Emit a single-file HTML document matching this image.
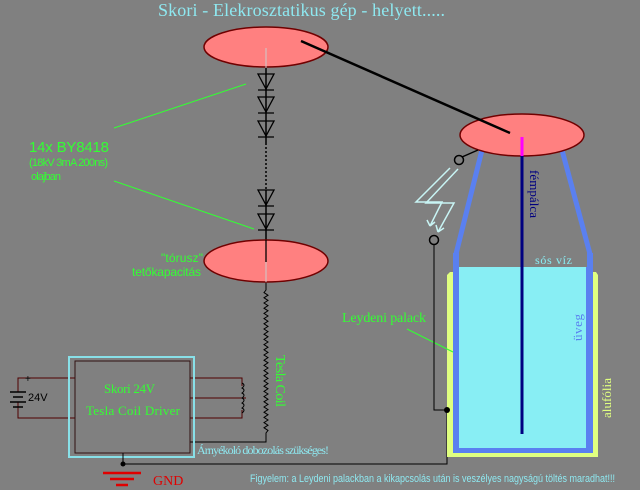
<!DOCTYPE html>
<html><head><meta charset="utf-8"><style>html,body{margin:0;padding:0;background:#808080;}svg{display:block}</style></head><body>
<svg width="640" height="490" xmlns="http://www.w3.org/2000/svg">
<rect width="640" height="490" fill="#808080"/>
<text x="158" y="16" font-family="Liberation Serif, serif" font-size="18" fill="#8ee8f0" textLength="287">Skori - Elekrosztatikus gép - helyett.....</text>
<!-- diode column -->
<line x1="266" y1="47" x2="266" y2="143" stroke="#000" stroke-width="1.5"/>
<line x1="266" y1="143" x2="266" y2="190" stroke="#000" stroke-width="1.5" stroke-dasharray="2,2"/>
<line x1="266" y1="190" x2="266" y2="261" stroke="#000" stroke-width="1.5"/>
<g fill="none" stroke="#000" stroke-width="1.3">
<path d="M258 74 L274 74 L266 89 Z M258 90 L274 90"/>
<path d="M258 97 L274 97 L266 112 Z M258 113 L274 113"/>
<path d="M258 121 L274 121 L266 136 Z M258 137 L274 137"/>
<path d="M258 190 L274 190 L266 205 Z M258 206 L274 206"/>
<path d="M258 214 L274 214 L266 229 Z M258 230 L274 230"/>
</g>
<ellipse cx="266" cy="47" rx="62" ry="20" fill="#ff8080" stroke="#700000" stroke-width="1.5"/>
<line x1="266" y1="48" x2="266" y2="68" stroke="#ccc" stroke-width="1"/>
<ellipse cx="266" cy="261" rx="62" ry="21" fill="#ff8080" stroke="#700000" stroke-width="1.5"/>
<line x1="266" y1="240" x2="266" y2="262" stroke="#000" stroke-width="1.3"/>
<line x1="266" y1="262" x2="266" y2="282" stroke="#ccc" stroke-width="1"/>
<!-- labels -->
<line x1="114" y1="128" x2="246" y2="84" stroke="#33ff33" stroke-width="1"/>
<line x1="114" y1="181" x2="254" y2="229" stroke="#33ff33" stroke-width="1"/>
<text x="29" y="152" font-family="Liberation Sans, sans-serif" font-size="15" fill="#33ff33" textLength="80">14x BY8418</text>
<text x="29" y="166" font-family="Liberation Sans, sans-serif" font-size="11" fill="#33ff33" textLength="79">(18kV 3mA 200ns)</text>
<text x="31" y="180" font-family="Liberation Sans, sans-serif" font-size="11" fill="#33ff33" textLength="30">olajban</text>
<text x="161" y="262" font-family="Liberation Sans, sans-serif" font-size="12" fill="#33ff33" textLength="42">"tórusz"</text>
<text x="132" y="276" font-family="Liberation Sans, sans-serif" font-size="12" fill="#33ff33" textLength="69">tetőkapacitás</text>
<!-- tesla coil -->
<path d="M266 283 L266 290 l-2 2.6 l4 2.6 l-4 2.6 l4 2.6 l-4 2.6 l4 2.6 l-4 2.6 l4 2.6 l-4 2.6 l4 2.6 l-4 2.6 l4 2.6 l-4 2.6 l4 2.6 l-4 2.6 l4 2.6 l-4 2.6 l4 2.6 l-4 2.6 l4 2.6 l-4 2.6 l4 2.6 l-4 2.6 l4 2.6 l-4 2.6 l4 2.6 l-4 2.6 l4 2.6 l-4 2.6 l4 2.6 l-4 2.6 l4 2.6 l-4 2.6 l4 2.6 l-4 2.6 l4 2.6 l-4 2.6 l4 2.6 l-4 2.6 l4 2.6 l-4 2.6 l4 2.6 l-4 2.6 l4 2.6 l-4 2.6 l4 2.6 l-4 2.6 l4 2.6 l-4 2.6 l4 2.6 l-4 2.6 l4 2.6 l-4 2.6 l4 2.6 l-2 2.6 L266 442 L190 442" fill="none" stroke="#000" stroke-width="1"/>
<text transform="translate(276,355) rotate(90)" font-family="Liberation Serif, serif" font-size="14" fill="#33ff33" textLength="52">Tesla Coil</text>
<!-- driver -->
<path d="M75 378 H18 V392 M18 402 V418 H75" fill="none" stroke="#500000" stroke-width="1"/>
<path d="M10 392 H26 M13 397 H23 M10 402 H26 M13 407 H23" stroke="#000" stroke-width="1.5"/>
<text x="25" y="382" font-family="Liberation Sans, sans-serif" font-size="10" fill="#000">+</text>
<text x="28" y="401" font-family="Liberation Sans, sans-serif" font-size="11" fill="#000">24V</text>
<path d="M190 378 H242 V386 M190 398 H246 M190 418 H242 V410" fill="none" stroke="#500000" stroke-width="1"/>
<path d="M242 383 q4 2 0 5 q4 2 0 5 q4 2 0 5 q4 2 0 5 q4 2 0 5 q4 2 0 5" fill="none" stroke="#000" stroke-width="1"/>
<rect x="69" y="357" width="125" height="100" fill="none" stroke="#88e0e8" stroke-width="2"/>
<rect x="75" y="361" width="115" height="92" fill="none" stroke="#301010" stroke-width="1"/>
<text x="104" y="393" font-family="Liberation Serif, serif" font-size="13" fill="#33ff33" textLength="51">Skori 24V</text>
<text x="86" y="415" font-family="Liberation Serif, serif" font-size="13" fill="#33ff33" textLength="94">Tesla Coil Driver</text>
<text x="197" y="454" font-family="Liberation Serif, serif" font-size="12" fill="#8ee8f0" textLength="132">Árnyékoló dobozolás szükséges!</text>
<!-- ground -->
<path d="M123 453 V464 H447 V410" fill="none" stroke="#000" stroke-width="1"/>
<circle cx="123" cy="464" r="2.5" fill="#000"/>
<path d="M103 473 H141 M110 479 H134 M116 485 H128" stroke="#e00000" stroke-width="2.5"/>
<text x="153" y="485" font-family="Liberation Serif, serif" font-size="14" fill="#e00000">GND</text>
<text x="250" y="482" font-family="Liberation Sans, sans-serif" font-size="11" fill="#8ee8f0" textLength="365" lengthAdjust="spacingAndGlyphs">Figyelem: a Leydeni palackban a kikapcsolás után is veszélyes nagyságú töltés maradhat!!!</text>
<!-- leyden jar -->
<path d="M447 275 L450 272 H596 L598 275 V457 H447 Z" fill="#e0ff80"/>
<rect x="453" y="253" width="140" height="200" fill="#5a80f0"/>
<rect x="459" y="267" width="127" height="181" fill="#88eef4"/>
<rect x="459" y="253" width="128" height="14" fill="#808080"/>
<line x1="456" y1="254" x2="482" y2="150" stroke="#5a80f0" stroke-width="5"/>
<line x1="590" y1="254" x2="562" y2="150" stroke="#5a80f0" stroke-width="5"/>
<ellipse cx="522" cy="135" rx="62" ry="21" fill="#ff8080" stroke="#700000" stroke-width="1.5"/>
<line x1="301" y1="41" x2="510" y2="133" stroke="#000" stroke-width="2.5"/>
<line x1="522" y1="137" x2="522" y2="156" stroke="#ff00ff" stroke-width="3"/>
<line x1="522" y1="156" x2="522" y2="434" stroke="#000080" stroke-width="3"/>
<text transform="translate(530,170) rotate(90)" font-family="Liberation Serif, serif" font-size="13" fill="#000080" textLength="48">fémpálca</text>
<text x="535" y="264" font-family="Liberation Serif, serif" font-size="12" fill="#88eef4" textLength="37">sós víz</text>
<text transform="translate(582,341) rotate(-90)" font-family="Liberation Serif, serif" font-size="13" fill="#5a80f0" textLength="27">üveg</text>
<text transform="translate(611,418) rotate(-90)" font-family="Liberation Serif, serif" font-size="13" fill="#e0ff80" textLength="40">alufólia</text>
<text x="342" y="322" font-family="Liberation Serif, serif" font-size="14" fill="#33ff33" textLength="84">Leydeni palack</text>
<line x1="407" y1="329" x2="453" y2="352" stroke="#33ff33" stroke-width="1"/>
<!-- spark gap -->
<line x1="462" y1="157" x2="478" y2="150" stroke="#000" stroke-width="1.5"/>
<circle cx="459" cy="160" r="4.5" fill="none" stroke="#000" stroke-width="1.5"/>
<circle cx="434" cy="240" r="4.5" fill="none" stroke="#000" stroke-width="1.5"/>
<path d="M434 245 V410 H447" fill="none" stroke="#000" stroke-width="1"/>
<circle cx="447" cy="410" r="3" fill="#000"/>
<g fill="none" stroke="#c8f4f4" stroke-width="1.5">
<path d="M450 168 L416 202 L442 202 L430 226 M430 226 l-3 -6 M430 226 l5 -4"/>
<path d="M458 169 L426 203 L454 203 L438 232 M438 232 l-2 -7 M438 232 l6 -4"/>
</g>
</svg>
</body></html>
